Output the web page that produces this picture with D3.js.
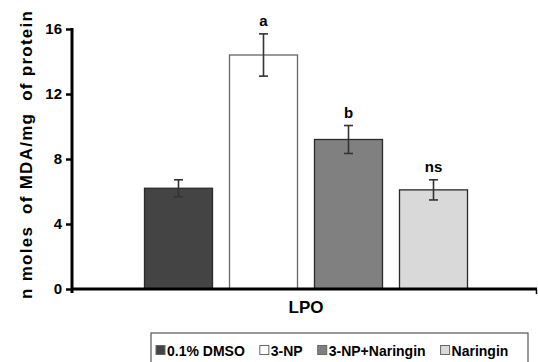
<!DOCTYPE html>
<html>
<head>
<meta charset="utf-8">
<script src="https://cdn.jsdelivr.net/npm/d3@7"></script>
<style>
  html, body { margin: 0; padding: 0; background: #fff; }
  svg { display: block; }
  text { font-family: Arial, "Liberation Sans", sans-serif; font-weight: bold; fill: #000; }
</style>
</head>
<body>
<svg id="chart" width="538" height="362"></svg>
<script>
// ---- data ----
const groups = ["0.1% DMSO", "3-NP", "3-NP+Naringin", "Naringin"];
const values = [6.2, 14.4, 9.2, 6.1];
const errors = [0.52, 1.3, 0.86, 0.62];
const sigLabels = ["", "a", "b", "ns"];
const category = "LPO";
const yTicks = [0, 4, 8, 12, 16];
const yLabel = "n moles  of MDA/mg  of protein";
const fills = ["#444444", "#ffffff", "#808080", "#d9d9d9"];

const svg = d3.select("#chart");
const x0 = 72, x1 = 537, yTop = 29, yBot = 289;

const y = d3.scaleLinear().domain([0, 16]).range([yBot, yTop]);
const xBand = d3.scaleBand().domain(groups).range([136, 476]).paddingInner(0.2).paddingOuter(0.1);

// bars
svg.selectAll("rect.bar").data(groups).enter().append("rect")
  .attr("class", "bar")
  .attr("x", d => xBand(d))
  .attr("width", xBand.bandwidth())
  .attr("y", (d, i) => y(values[i]))
  .attr("height", (d, i) => y(0) - y(values[i]))
  .attr("fill", (d, i) => fills[i])
  .attr("stroke", (d, i) => i === 1 ? "#666" : "#2a2a2a")
  .attr("stroke-width", 1.3);

// error bars
const eb = svg.selectAll("g.err").data(groups).enter().append("g")
  .attr("stroke", "#333").attr("stroke-width", 1.6);
eb.append("line")
  .attr("x1", d => xBand(d) + xBand.bandwidth() / 2)
  .attr("x2", d => xBand(d) + xBand.bandwidth() / 2)
  .attr("y1", (d, i) => y(values[i] + errors[i]))
  .attr("y2", (d, i) => y(values[i] - errors[i]));
[1, -1].forEach(s => {
  eb.append("line")
    .attr("x1", d => xBand(d) + xBand.bandwidth() / 2 - 4.5)
    .attr("x2", d => xBand(d) + xBand.bandwidth() / 2 + 4.5)
    .attr("y1", (d, i) => y(values[i] + s * errors[i]))
    .attr("y2", (d, i) => y(values[i] + s * errors[i]));
});

// significance labels
svg.selectAll("text.sig").data(groups).enter().append("text")
  .attr("x", d => xBand(d) + xBand.bandwidth() / 2)
  .attr("y", (d, i) => y(values[i] + errors[i]) - 8)
  .attr("text-anchor", "middle")
  .style("font-size", "15px")
  .text((d, i) => sigLabels[i]);

// y axis
const yAxis = d3.axisLeft(y).tickValues(yTicks).tickSize(6).tickPadding(4).tickFormat(d3.format("d"));
const gy = svg.append("g").attr("transform", `translate(${x0},0)`).call(yAxis);
gy.select(".domain").remove();
gy.selectAll(".tick line").attr("stroke", "#000").attr("stroke-width", 2.5);
gy.selectAll(".tick text").style("font-size", "15px").style("font-family", "Arial, 'Liberation Sans', sans-serif").style("font-weight", "bold").attr("fill", "#000");
svg.append("line").attr("x1", x0).attr("x2", x0).attr("y1", yTop - 1).attr("y2", yBot + 4)
  .attr("stroke", "#000").attr("stroke-width", 3);

// x axis
svg.append("line").attr("x1", x0).attr("x2", x1).attr("y1", yBot).attr("y2", yBot)
  .attr("stroke", "#000").attr("stroke-width", 3);
svg.append("line").attr("x1", x1 - 0.5).attr("x2", x1 - 0.5).attr("y1", yBot).attr("y2", yBot + 5)
  .attr("stroke", "#000").attr("stroke-width", 1.5);

// category label
svg.append("text").attr("x", (xBand.range()[0] + xBand.range()[1]) / 2).attr("y", 313)
  .attr("text-anchor", "middle").style("font-size", "17px").text(category);

// y label
svg.append("text")
  .attr("transform", "translate(26,155) rotate(-90)")
  .attr("text-anchor", "middle")
  .attr("dominant-baseline", "central")
  .attr("textLength", 288).attr("lengthAdjust", "spacing")
  .style("font-size", "17px").style("white-space", "pre")
  .text(yLabel);

// legend
const lgL = 151, lgR = 528, lgT = 333;
svg.append("rect").attr("x", lgL).attr("y", lgT).attr("width", lgR - lgL).attr("height", 40)
  .attr("fill", "none").attr("stroke", "#555").attr("stroke-width", 1.2);
const items = svg.append("g");
const widths = [];
groups.forEach((g, i) => {
  const t = items.append("text").attr("y", 355.5).style("font-size", "14px").text(g);
  widths.push(t.node().getComputedTextLength());
});
const sq = 9, sqGap = 2, gap = 15;
let cx = lgL + 5;
items.selectAll("text").each(function (d, i) {
  items.append("rect").attr("x", cx).attr("y", 345.5).attr("width", sq).attr("height", sq)
    .attr("fill", fills[i]).attr("stroke", "#666").attr("stroke-width", 1);
  d3.select(this).attr("x", cx + sq + sqGap);
  cx += sq + sqGap + widths[i] + gap;
});
</script>
</body>
</html>
